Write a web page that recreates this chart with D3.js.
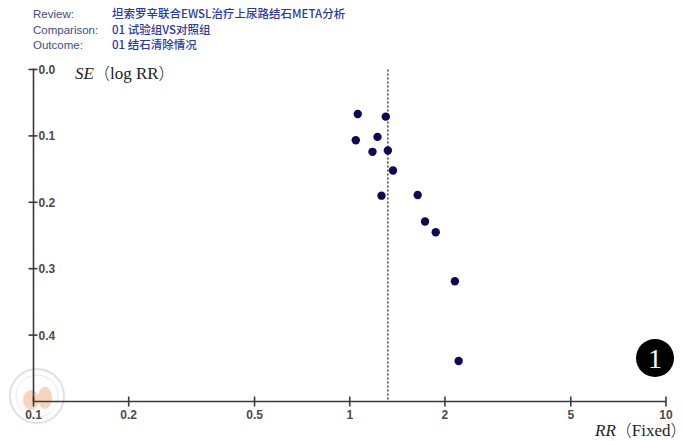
<!DOCTYPE html>
<html><head><meta charset="utf-8">
<script src="https://cdn.jsdelivr.net/npm/d3@7"></script>
<style>body{margin:0;background:#fff}svg{display:block}</style>
</head><body>
<svg id="c" width="685" height="441"></svg>
<script>
const headerLabels = ["Review:", "Comparison:", "Outcome:"];
const headerValues = ["坦索罗辛联合EWSL治疗上尿路结石META分析", "01 试验组VS对照组", "01 结石清除情况"];
const rr = [1.06, 1.30, 1.045, 1.224, 1.18, 1.32, 1.37, 1.26, 1.64, 1.73, 1.87, 2.15, 2.21];
const se = [0.067, 0.071, 0.1065, 0.1015, 0.124, 0.122, 0.152, 0.190, 0.189, 0.229, 0.245, 0.319, 0.439];
const xTicks = [0.1, 0.2, 0.5, 1, 2, 5, 10];
const xTickLabels = ["0.1", "0.2", "0.5", "1", "2", "5", "10"];
const yTicks = [0.0, 0.1, 0.2, 0.3, 0.4];
const yTickLabels = ["0.0", "0.1", "0.2", "0.3", "0.4"];
const pooledRR = 1.32;

const svg = d3.select("#c");
const x = d3.scaleLog().domain([0.1, 10]).range([33.5, 666]);
const y = d3.scaleLinear().domain([0, 0.5]).range([69.5, 401.5]);

// watermark
const wm = svg.append("g").attr("opacity", 0.55);
wm.append("circle").attr("cx", 37).attr("cy", 396).attr("r", 27).attr("fill", "none").attr("stroke", "#c9c9c9").attr("stroke-width", 2);
wm.append("circle").attr("cx", 37).attr("cy", 396).attr("r", 21).attr("fill", "none").attr("stroke", "#dadada").attr("stroke-width", 1);
wm.append("ellipse").attr("cx", 31).attr("cy", 400).attr("rx", 8).attr("ry", 10).attr("fill", "#f3b08a");
wm.append("ellipse").attr("cx", 45).attr("cy", 398).attr("rx", 7).attr("ry", 11).attr("fill", "#f3b08a");

// header
const hdr = svg.append("g").attr("font-family", "Liberation Sans, Arial, sans-serif").attr("font-size", 11.5);
headerLabels.forEach((t, i) => {
  hdr.append("text").attr("x", 33).attr("y", 18 + i * 15.5).attr("fill", "#3d4b86").text(t);
  hdr.append("text").attr("x", 112).attr("y", 18 + i * 15.5).attr("fill", "#2a3a9e").attr("font-weight", 500)
    .attr("font-family", "Noto Sans CJK SC, Liberation Sans, sans-serif").text(headerValues[i]);
});

// dashed pooled line
svg.append("line").attr("x1", x(pooledRR)).attr("x2", x(pooledRR))
  .attr("y1", y(0)).attr("y2", y(0.5)).attr("stroke", "#222").attr("stroke-width", 1.3)
  .attr("stroke-dasharray", "2,2");

// y axis
const ya = svg.append("g").attr("transform", `translate(${x(0.1)},0)`);
ya.append("line").attr("y1", y(0) - 1).attr("y2", y(0.5)).attr("stroke", "#3a3a3a").attr("stroke-width", 1.6);
ya.selectAll("line.t").data(yTicks).join("line").attr("class", "t")
  .attr("x1", -5).attr("x2", 4).attr("y1", d => y(d)).attr("y2", d => y(d))
  .attr("stroke", "#3a3a3a").attr("stroke-width", 1.6);
ya.selectAll("text").data(yTicks).join("text")
  .attr("x", 5).attr("y", d => y(d) + 4.5).attr("font-family", "Liberation Sans, Arial, sans-serif")
  .attr("font-size", 12).attr("font-weight", "bold").attr("fill", "#4a4a4a")
  .text((d, i) => yTickLabels[i]);

// x axis
const xa = svg.append("g").attr("transform", `translate(0,${y(0.5)})`);
xa.append("line").attr("x1", x(0.1)).attr("x2", x(10)).attr("stroke", "#3a3a3a").attr("stroke-width", 1.6);
xa.selectAll("line.t").data(xTicks).join("line").attr("class", "t")
  .attr("x1", d => x(d)).attr("x2", d => x(d)).attr("y1", -5).attr("y2", 5)
  .attr("stroke", "#3a3a3a").attr("stroke-width", 1.6);
xa.selectAll("text").data(xTicks).join("text")
  .attr("x", d => x(d)).attr("y", 17).attr("text-anchor", "middle")
  .attr("font-family", "Liberation Sans, Arial, sans-serif").attr("font-size", 12)
  .attr("font-weight", "bold").attr("fill", "#4a4a4a")
  .text((d, i) => xTickLabels[i]);

// axis titles
function title(tx, ty, a, b) {
  const t = svg.append("text").attr("x", tx).attr("y", ty).attr("font-size", 17).attr("fill", "#222")
    .attr("font-family", "Liberation Serif, Times New Roman, serif");
  t.append("tspan").attr("font-style", "italic").text(a);
  t.append("tspan").attr("font-family", "Noto Sans CJK SC, serif").attr("font-size", 16).attr("font-weight", 300).text("（");
  t.append("tspan").text(b);
  t.append("tspan").attr("font-family", "Noto Sans CJK SC, serif").attr("font-size", 16).attr("font-weight", 300).text("）");
}
title(75, 79, "SE", "log RR");
title(595, 436, "RR", "Fixed");

// points
svg.selectAll("circle.pt").data(rr).join("circle").attr("class", "pt")
  .attr("cx", d => x(d)).attr("cy", (d, i) => y(se[i])).attr("r", 4.2).attr("fill", "#0b0b55");

// badge
svg.append("circle").attr("cx", 655).attr("cy", 358).attr("r", 19).attr("fill", "#000");
svg.append("text").attr("x", 655).attr("y", 368).attr("text-anchor", "middle").attr("fill", "#fff")
  .attr("font-family", "Liberation Serif, Times New Roman, serif").attr("font-size", 28).text("1");
</script>
</body></html>
